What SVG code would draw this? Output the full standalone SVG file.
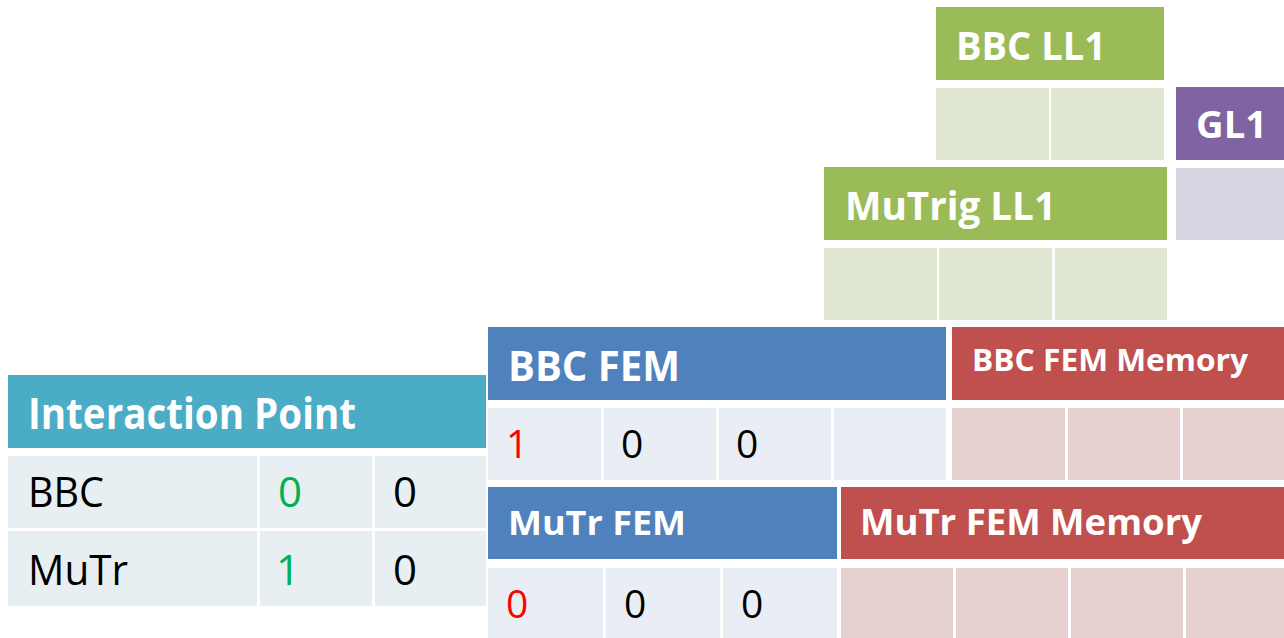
<svg xmlns="http://www.w3.org/2000/svg" width="1284" height="638" viewBox="0 0 1284 638">
  <style>
    .hd { font-family: "Open Sans", "Liberation Sans", sans-serif; font-weight: bold; fill: #ffffff; }
    .tx { font-family: "Open Sans", "Liberation Sans", sans-serif; fill: #000000; }
    .teal { fill: #4BACC6; } .tealc { fill: #E8EFF2; }
    .blue { fill: #4F81BD; } .bluec { fill: #E9EDF4; }
    .red { fill: #C0504D; } .redc { fill: #E7D0D0; }
    .grn { fill: #9BBB59; } .grnc { fill: #DFE7D3; }
    .pur { fill: #8064A2; } .purc { fill: #D8D5E3; }
  </style>
  <rect width="1284" height="638" fill="#ffffff"/>

  <g id="bbc-ll1">
    <rect class="grn" x="936" y="7" width="228" height="73"/>
    <text class="hd" x="956" y="60" font-size="39.6" textLength="150" lengthAdjust="spacingAndGlyphs">BBC LL1</text>
    <rect class="grnc" x="936" y="88" width="113" height="72"/>
    <rect class="grnc" x="1051" y="88" width="113" height="72"/>
  </g>

  <g id="gl1">
    <rect class="pur" x="1176" y="87" width="108" height="73"/>
    <text class="hd" x="1196" y="138" font-size="37.4" textLength="71" lengthAdjust="spacingAndGlyphs">GL1</text>
    <rect class="purc" x="1176" y="168" width="108" height="72"/>
  </g>

  <g id="mutrig-ll1">
    <rect class="grn" x="824" y="167" width="343" height="73"/>
    <text class="hd" x="845" y="220" font-size="39.6" textLength="211" lengthAdjust="spacingAndGlyphs">MuTrig LL1</text>
    <rect class="grnc" x="824" y="248" width="113" height="72"/>
    <rect class="grnc" x="939" y="248" width="113" height="72"/>
    <rect class="grnc" x="1055" y="248" width="112" height="72"/>
  </g>

  <g id="interaction-point">
    <rect class="teal" x="8" y="375" width="478" height="73"/>
    <text class="hd" x="28" y="429" font-size="43" textLength="328" lengthAdjust="spacingAndGlyphs">Interaction Point</text>
    <rect class="tealc" x="8" y="456" width="249" height="72"/>
    <rect class="tealc" x="260" y="456" width="112" height="72"/>
    <rect class="tealc" x="375" y="456" width="111" height="72"/>
    <rect class="tealc" x="8" y="531" width="249" height="75"/>
    <rect class="tealc" x="260" y="531" width="112" height="75"/>
    <rect class="tealc" x="375" y="531" width="111" height="75"/>
    <text class="tx" x="28" y="507" font-size="42" textLength="76" lengthAdjust="spacingAndGlyphs">BBC</text>
    <text class="tx" x="278" y="507" font-size="42" fill="#00B050" style="fill:#00B050">0</text>
    <text class="tx" x="393" y="507" font-size="42">0</text>
    <text class="tx" x="28" y="585" font-size="42" textLength="100" lengthAdjust="spacingAndGlyphs">MuTr</text>
    <text class="tx" x="276" y="585" font-size="42" style="fill:#00B050">1</text>
    <text class="tx" x="393" y="585" font-size="42">0</text>
  </g>

  <g id="bbc-fem">
    <rect class="blue" x="488" y="327" width="458" height="73"/>
    <text class="hd" x="508" y="381" font-size="41" textLength="172" lengthAdjust="spacingAndGlyphs">BBC FEM</text>
    <rect class="bluec" x="488" y="408" width="113" height="72"/>
    <rect class="bluec" x="604" y="408" width="112" height="72"/>
    <rect class="bluec" x="719" y="408" width="112" height="72"/>
    <rect class="bluec" x="834" y="408" width="112" height="72"/>
    <text class="tx" x="506" y="458" font-size="39" style="fill:#FF0000">1</text>
    <text class="tx" x="621" y="458" font-size="39">0</text>
    <text class="tx" x="736" y="458" font-size="39">0</text>
  </g>

  <g id="bbc-fem-memory">
    <rect class="red" x="952" y="327" width="332" height="73"/>
    <text class="hd" x="972" y="371" font-size="31" textLength="276" lengthAdjust="spacingAndGlyphs">BBC FEM Memory</text>
    <rect class="redc" x="952" y="408" width="113" height="72"/>
    <rect class="redc" x="1068" y="408" width="112" height="72"/>
    <rect class="redc" x="1183" y="408" width="101" height="72"/>
  </g>

  <g id="mutr-fem">
    <rect class="blue" x="488" y="487" width="349" height="72"/>
    <text class="hd" x="508" y="535" font-size="34" textLength="178" lengthAdjust="spacingAndGlyphs">MuTr FEM</text>
    <rect class="bluec" x="488" y="568" width="115" height="70"/>
    <rect class="bluec" x="606" y="568" width="114" height="70"/>
    <rect class="bluec" x="723" y="568" width="114" height="70"/>
    <text class="tx" x="506" y="618" font-size="39" style="fill:#FF0000">0</text>
    <text class="tx" x="624" y="618" font-size="39">0</text>
    <text class="tx" x="741" y="618" font-size="39">0</text>
  </g>

  <g id="mutr-fem-memory">
    <rect class="red" x="841" y="487" width="443" height="72"/>
    <text class="hd" x="860" y="535" font-size="35" textLength="342" lengthAdjust="spacingAndGlyphs">MuTr FEM Memory</text>
    <rect class="redc" x="841" y="568" width="112" height="70"/>
    <rect class="redc" x="956" y="568" width="112" height="70"/>
    <rect class="redc" x="1071" y="568" width="112" height="70"/>
    <rect class="redc" x="1186" y="568" width="98" height="70"/>
  </g>

  <g id="connectors"/>
</svg>
